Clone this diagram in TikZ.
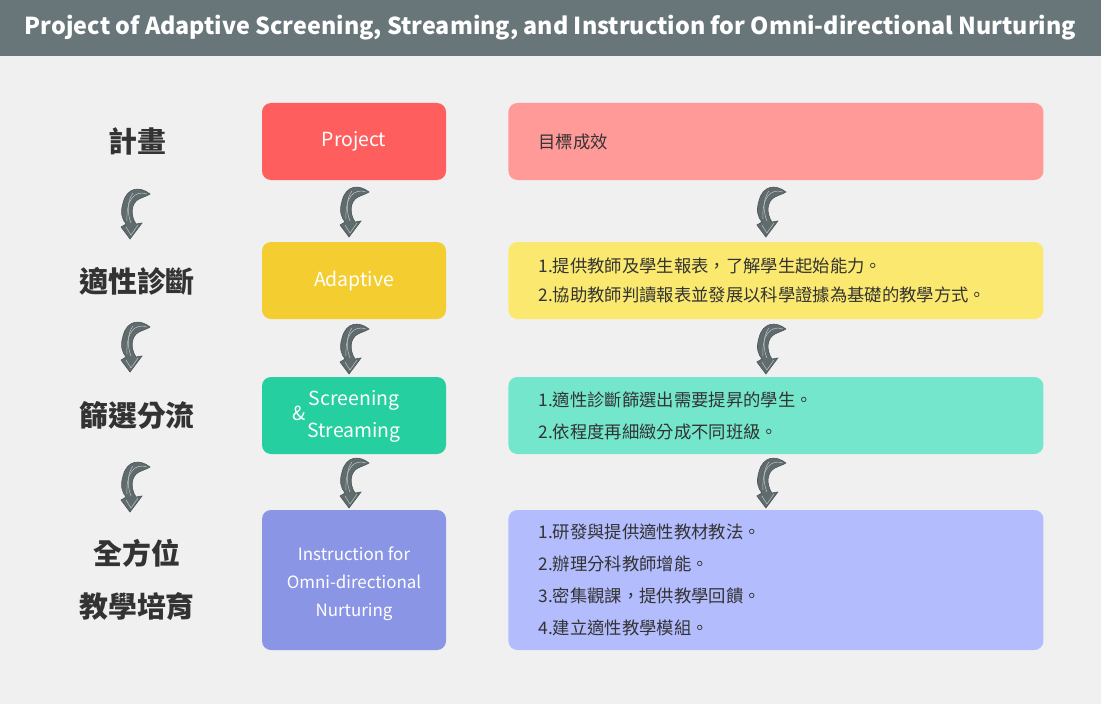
\documentclass[tikz,border=0pt]{standalone}
\usepackage{fontspec}
\setmainfont{Noto Sans CJK TC}
\usepackage{tikz}
\usetikzlibrary{positioning,calc}
\definecolor{pagebg}{HTML}{F0F0F0}
\definecolor{bargray}{HTML}{68767A}
\definecolor{txtdark}{HTML}{333333}
\definecolor{arrgray}{HTML}{5F6B6D}
\definecolor{pjred}{HTML}{FF5E5E}
\definecolor{pjpink}{HTML}{FF9A98}
\definecolor{adyel}{HTML}{F4CD30}
\definecolor{adyelL}{HTML}{FAE96E}
\definecolor{scteal}{HTML}{26CFA0}
\definecolor{sctealL}{HTML}{74E6CB}
\definecolor{inpurp}{HTML}{8A96E5}
\definecolor{inpurpL}{HTML}{B3BCFD}

% sketchy curved down arrow
\tikzset{curly/.pic={
  \fill[arrgray,draw=arrgray!80!black,line width=0.6bp]
    (15,-19) .. controls (5,-27) and (-8,-26) .. (-12,-10)
    .. controls (-15,0) and (-13,6) .. (-9,11) -- (-14,14) -- (-5,26) -- (7,10) -- (1,11)
    .. controls (-5,2) and (-4,-10) .. (4,-14) .. controls (8,-16) and (12,-17) .. (15,-19) -- cycle;
  \draw[arrgray!40!white,line width=0.5bp] (12,-19) .. controls (0,-23) and (-9,-14) .. (-8,8);
  \draw[arrgray!40!white,line width=0.5bp] (-2,-20) .. controls (-8,-12) and (-8,0) .. (-4,10);
  \draw[arrgray!40!white,line width=0.5bp] (-9,14) -- (-4,22) -- (3,12);
}}

\begin{document}
\begin{tikzpicture}[x=1bp,y=-1bp,node distance=62bp]
  \tikzstyle{mid}=[rounded corners=9bp,minimum width=184bp,minimum height=77bp,text=white,align=center,font=\fontsize{19.5}{32}\selectfont]
  \tikzstyle{rt}=[rounded corners=9bp,minimum width=535bp,minimum height=77bp,inner xsep=30bp,text width=475bp,align=left,text=txtdark,font=\fontsize{17.4}{32}\selectfont]
  \tikzstyle{lab}=[text=txtdark,align=center,font=\bfseries\fontsize{29}{53}\selectfont]
  \fill[pagebg] (0,0) rectangle (1101,704);
  \useasboundingbox (0,0) rectangle (1101,704);
  \node[fill=bargray,minimum width=1101bp,minimum height=56bp,text=white,font=\bfseries\fontsize{23.4}{26}\selectfont] (title) at (550.5,28)
    {Project of Adaptive Screening, Streaming, and Instruction for Omni-directional Nurturing};
  % left column
  \node[lab] (l1) at (137,141) {計畫};
  \node[lab] (l2) at (137,281) {適性診斷};
  \node[lab] (l3) at (137,415) {篩選分流};
  \node[lab] (l4) at (137,580) {全方位\\教學培育};
  % middle column
  \node[mid,fill=pjred]  (proj) at (354,141.5) {Project};
  \node[mid,fill=adyel]  (adap) at (354,280.5) {Adaptive};
  \node[mid,fill=scteal] (scr)  at (354,415.5) {\llap{\&\hspace{2bp}}\begin{tabular}{@{}c@{}}Screening\\Streaming\end{tabular}};
  \node[mid,fill=inpurp,minimum height=140bp,inner sep=0pt,font=\fontsize{17}{28}\selectfont] (ins) at (354,580)
    {\parbox[c][120bp][c]{170bp}{\vspace{7bp}\centering Instruction for\\Omni-directional\\Nurturing}};
  % right column
  \node[rt,fill=pjpink,right=of proj] (proj-r) {目標成效};
  \node[rt,fill=adyelL,right=of adap,font=\fontsize{17.4}{29}\selectfont] (adap-r)
    {1.提供教師及學生報表，了解學生起始能力。\\2.協助教師判讀報表並發展以科學證據為基礎的教學方式。};
  \node[rt,fill=sctealL,right=of scr] (scr-r)
    {1.適性診斷篩選出需要提昇的學生。\\2.依程度再細緻分成不同班級。};
  \node[rt,fill=inpurpL,right=of ins,minimum height=140bp] (ins-r)
    {1.研發與提供適性教材教法。\\2.辦理分科教師增能。\\3.密集觀課，提供教學回饋。\\4.建立適性教學模組。};
  % arrows
  \foreach \y in {213,346,486} \pic at (135,\y) {curly};
  \foreach \a/\b in {proj/adap,adap/scr,scr/ins} {
    \pic at ($(\a.south)!0.5!(\b.north)$) {curly};
    \pic at ($(\a-r.south)!0.5!(\b-r.north)+(-5,0)$) {curly};
  }
\end{tikzpicture}
\end{document}
